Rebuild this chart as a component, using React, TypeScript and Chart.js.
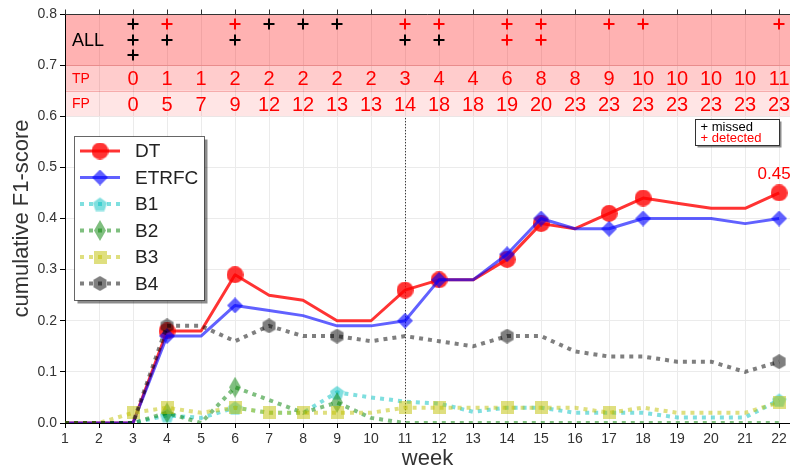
import React, { useEffect, useRef } from 'react';
import { Chart, registerables } from 'chart.js';

Chart.register(...registerables);

const FONT = '"Liberation Sans", Arial, sans-serif';

// ---- data ----
const weeks = [1, 2, 3, 4, 5, 6, 7, 8, 9, 10, 11, 12, 13, 14, 15, 16, 17, 18, 19, 20, 21, 22];
const dtValues = [0, 0, 0, 0.18, 0.18, 0.29, 0.25, 0.24, 0.2, 0.2, 0.26, 0.28, 0.28, 0.32, 0.39, 0.38, 0.41, 0.44, 0.43, 0.42, 0.42, 0.45];
const etrfcValues = [0, 0, 0, 0.17, 0.17, 0.23, 0.22, 0.21, 0.19, 0.19, 0.2, 0.28, 0.28, 0.33, 0.4, 0.38, 0.38, 0.4, 0.4, 0.4, 0.39, 0.4];
const b1Values = [0, 0, 0, 0.015, 0.01, 0.03, 0.02, 0.02, 0.06, 0.05, 0.042, 0.038, 0.022, 0.03, 0.03, 0.02, 0.02, 0.02, 0.011, 0.011, 0.011, 0.045];
const b2Values = [0, 0, 0, 0.02, 0, 0.07, 0.045, 0.02, 0.04, 0.01, 0, 0, 0, 0, 0, 0, 0, 0, 0, 0, 0, 0];
const b3Values = [0, 0, 0.02, 0.03, 0.02, 0.03, 0.02, 0.02, 0.02, 0.02, 0.03, 0.03, 0.03, 0.03, 0.03, 0.03, 0.02, 0.03, 0.02, 0.02, 0.02, 0.04];
const b4Values = [0, 0, 0, 0.19, 0.19, 0.16, 0.19, 0.17, 0.17, 0.16, 0.17, 0.16, 0.15, 0.17, 0.17, 0.14, 0.13, 0.13, 0.12, 0.12, 0.1, 0.12];

const dtMarkerWeeks = [4, 6, 11, 12, 14, 15, 17, 18, 22];
const etrfcMarkerWeeks = [4, 6, 11, 12, 14, 15, 17, 18, 22];
const b1MarkerWeeks = [4, 6, 9, 22];
const b2MarkerWeeks = [4, 6, 9];
const b3MarkerWeeks = [3, 4, 6, 7, 8, 9, 11, 12, 14, 15, 17, 22];
const b4MarkerWeeks = [4, 7, 9, 14, 22];

// top band
const countWeeks = [3, 4, 5, 6, 7, 8, 9, 10, 11, 12, 13, 14, 15, 16, 17, 18, 19, 20, 21, 22];
const tpCounts = [0, 1, 1, 2, 2, 2, 2, 2, 3, 4, 4, 6, 8, 8, 9, 10, 10, 10, 10, 11];
const fpCounts = [0, 5, 7, 9, 12, 12, 13, 13, 14, 18, 18, 19, 20, 23, 23, 23, 23, 23, 23, 23];
const eventWeeks = [3, 4, 6, 7, 8, 9, 11, 12, 14, 15, 17, 18, 22];
const detectedPerWeek = [0, 1, 1, 0, 0, 0, 1, 1, 2, 2, 1, 1, 1];
const missedPerWeek = [3, 1, 1, 1, 1, 1, 1, 1, 0, 0, 0, 0, 0];
const plusRows = [0.78, 0.75, 0.72];

const yTicks = [0, 0.1, 0.2, 0.3, 0.4, 0.5, 0.6, 0.7, 0.8];
const markedWeek = 11;
const finalLabel = '0.45';

// ---- marker images ----
function makeMarker(shape: string, color: string, w: number, h: number) {
  const c = document.createElement('canvas');
  c.width = w;
  c.height = h;
  const g = c.getContext('2d')!;
  g.fillStyle = color;
  g.beginPath();
  const cx = w / 2, cy = h / 2;
  if (shape === 'circle') {
    g.arc(cx, cy, w / 2, 0, Math.PI * 2);
  } else if (shape === 'diamond') {
    g.moveTo(cx, 0); g.lineTo(w, cy); g.lineTo(cx, h); g.lineTo(0, cy); g.closePath();
  } else if (shape === 'square') {
    g.rect(0, 0, w, h);
  } else {
    const n = shape === 'pentagon' ? 5 : 6;
    const r = w / 2;
    for (let i = 0; i < n; i++) {
      const a = -Math.PI / 2 + (i * 2 * Math.PI) / n;
      const px = cx + r * Math.cos(a), py = cy + r * Math.sin(a) + (n === 5 ? 1 : 0);
      if (i === 0) g.moveTo(px, py); else g.lineTo(px, py);
    }
    g.closePath();
  }
  g.fill();
  return c;
}

export default function App() {
  const ref = useRef<HTMLCanvasElement>(null);

  useEffect(() => {
    const colDT = 'rgba(255,0,0,0.8)';
    const colET = 'rgba(0,0,255,0.62)';
    const colB1 = 'rgba(0,191,191,0.5)';
    const colB2 = 'rgba(0,128,0,0.5)';
    const colB3 = 'rgba(191,191,0,0.5)';
    const colB4 = 'rgba(0,0,0,0.5)';

    const series = [
      { label: 'DT', values: dtValues, marks: dtMarkerWeeks, color: colDT, width: 3, dash: [] as number[], img: makeMarker('circle', colDT, 17, 17), order: 6 },
      { label: 'ETRFC', values: etrfcValues, marks: etrfcMarkerWeeks, color: colET, width: 3, dash: [] as number[], img: makeMarker('diamond', colET, 16, 16), order: 5 },
      { label: 'B1', values: b1Values, marks: b1MarkerWeeks, color: colB1, width: 4, dash: [4, 5], img: makeMarker('pentagon', colB1, 15, 15), order: 4 },
      { label: 'B2', values: b2Values, marks: b2MarkerWeeks, color: colB2, width: 4, dash: [4, 5], img: makeMarker('diamond', colB2, 12, 21), order: 3 },
      { label: 'B3', values: b3Values, marks: b3MarkerWeeks, color: colB3, width: 4, dash: [4, 5], img: makeMarker('square', colB3, 13, 13), order: 2 },
      { label: 'B4', values: b4Values, marks: b4MarkerWeeks, color: colB4, width: 4, dash: [4, 5], img: makeMarker('hexagon', colB4, 15, 15), order: 1 },
    ];

    const datasets = series.map((s) => ({
      label: s.label,
      data: weeks.map((w, i) => ({ x: w, y: s.values[i] })),
      borderColor: s.color,
      backgroundColor: s.color,
      borderWidth: s.width,
      borderDash: s.dash,
      borderCapStyle: 'butt' as const,
      borderJoinStyle: s.dash.length ? ('miter' as const) : ('round' as const),
      tension: 0,
      fill: false,
      pointStyle: s.img,
      pointRadius: weeks.map((w) => (s.marks.includes(w) ? 6 : 0)),
      pointHoverRadius: 0,
      order: s.order,
    }));

    const overlay = {
      id: 'overlay',
      beforeDatasetsDraw(chart: any) {
        const { ctx, chartArea: a, scales } = chart;
        const x = scales.x, y = scales.y;
        ctx.save();
        const L = a.left + 1, R = a.right;
        const band = (v0: number, v1: number, c: string) => {
          const t = y.getPixelForValue(v1), b = y.getPixelForValue(v0);
          ctx.fillStyle = c;
          ctx.fillRect(L, t, R - L, b - t);
        };
        band(0.7, 0.8, 'rgba(255,0,0,0.3)');
        band(0.65, 0.7, 'rgba(255,0,0,0.2)');
        band(0.6, 0.65, 'rgba(255,0,0,0.1)');
        ctx.strokeStyle = 'rgba(220,0,0,0.25)';
        ctx.lineWidth = 1;
        [0.7, 0.65].forEach((v) => {
          const py = Math.round(y.getPixelForValue(v)) + 0.5;
          ctx.beginPath(); ctx.moveTo(L, py); ctx.lineTo(R, py); ctx.stroke();
        });
        // dotted vertical line
        const vx = Math.round(x.getPixelForValue(markedWeek)) + 0.5;
        ctx.strokeStyle = '#000';
        ctx.setLineDash([1, 2]);
        ctx.beginPath();
        ctx.moveTo(vx, y.getPixelForValue(0.6) + 2);
        ctx.lineTo(vx, y.getPixelForValue(0));
        ctx.stroke();
        ctx.restore();
      },
      afterDatasetsDraw(chart: any) {
        const { ctx, chartArea: a, scales } = chart;
        const x = scales.x, y = scales.y;
        ctx.save();
        // top axis line & ticks
        ctx.strokeStyle = '#333';
        ctx.lineWidth = 1;
        const ty = Math.round(a.top) + 0.5;
        ctx.beginPath(); ctx.moveTo(a.left, ty); ctx.lineTo(a.right, ty); ctx.stroke();
        weeks.forEach((w) => {
          const px = Math.round(x.getPixelForValue(w)) + 0.5;
          ctx.beginPath(); ctx.moveTo(px, ty); ctx.lineTo(px, ty - 5); ctx.stroke();
        });
        // band labels
        ctx.textBaseline = 'middle';
        ctx.textAlign = 'left';
        ctx.fillStyle = '#000';
        ctx.font = `18px ${FONT}`;
        ctx.fillText('ALL', a.left + 7, y.getPixelForValue(0.75) + 1);
        ctx.fillStyle = '#ff0000';
        ctx.font = `14px ${FONT}`;
        ctx.fillText('TP', a.left + 7, y.getPixelForValue(0.675) + 1);
        ctx.fillText('FP', a.left + 7, y.getPixelForValue(0.625) + 1);
        ctx.textAlign = 'center';
        ctx.font = `20px ${FONT}`;
        countWeeks.forEach((w, i) => {
          const px = x.getPixelForValue(w);
          ctx.fillText(String(tpCounts[i]), px, y.getPixelForValue(0.675) + 2);
          ctx.fillText(String(fpCounts[i]), px, y.getPixelForValue(0.625) + 2);
        });
        // plus markers
        ctx.lineWidth = 2;
        eventWeeks.forEach((w, i) => {
          const px = Math.round(x.getPixelForValue(w));
          const cols: string[] = [];
          for (let k = 0; k < detectedPerWeek[i]; k++) cols.push('#ff0000');
          for (let k = 0; k < missedPerWeek[i]; k++) cols.push('#000000');
          cols.forEach((c, r) => {
            const py = Math.round(y.getPixelForValue(plusRows[r]));
            ctx.strokeStyle = c;
            ctx.beginPath();
            ctx.moveTo(px - 5.5, py); ctx.lineTo(px + 5.5, py);
            ctx.moveTo(px, py - 5.5); ctx.lineTo(px, py + 5.5);
            ctx.stroke();
          });
        });
        // final value label
        ctx.fillStyle = '#ff0000';
        ctx.font = `17px ${FONT}`;
        ctx.textAlign = 'center';
        ctx.fillText(finalLabel, x.getPixelForValue(22) - 5, y.getPixelForValue(dtValues[dtValues.length - 1]) - 19);

        // missed / detected box
        const bx = 695.5, by = 119.5, bw = 84, bh = 26;
        ctx.fillStyle = 'rgba(0,0,0,0.45)';
        ctx.fillRect(bx + 2, by + 2, bw, bh);
        ctx.fillStyle = '#fff';
        ctx.fillRect(bx, by, bw, bh);
        ctx.strokeStyle = '#333';
        ctx.lineWidth = 1;
        ctx.strokeRect(bx, by, bw, bh);
        ctx.textAlign = 'left';
        ctx.font = `13px ${FONT}`;
        ctx.fillStyle = '#000';
        ctx.fillText('+ missed', bx + 5, by + 8);
        ctx.fillStyle = '#ff0000';
        ctx.fillText('+ detected', bx + 5, by + 19);

        // main legend
        const lx = 74.5, ly = 136.5, lw = 130, lh = 164;
        ctx.fillStyle = 'rgba(0,0,0,0.45)';
        ctx.fillRect(lx + 3, ly + 3, lw, lh);
        ctx.fillStyle = '#fff';
        ctx.fillRect(lx, ly, lw, lh);
        ctx.strokeStyle = 'rgba(0,0,0,0.6)';
        ctx.strokeRect(lx, ly, lw, lh);
        series.forEach((s, i) => {
          const ey = 151 + i * 26.5;
          ctx.strokeStyle = s.color;
          ctx.lineWidth = s.width;
          ctx.setLineDash(s.dash);
          ctx.lineCap = 'butt';
          ctx.beginPath();
          ctx.moveTo(80, ey); ctx.lineTo(120, ey);
          ctx.stroke();
          ctx.setLineDash([]);
          ctx.drawImage(s.img, 100 - s.img.width / 2, ey - s.img.height / 2);
          ctx.fillStyle = '#222';
          ctx.font = `19px ${FONT}`;
          ctx.textAlign = 'left';
          ctx.fillText(s.label, 135, ey + 1);
        });
        ctx.restore();
      },
    };

    const tickFont = { family: FONT, size: 14 };
    const chart = new Chart(ref.current!, {
      type: 'line',
      data: { datasets: datasets as any },
      plugins: [overlay],
      options: {
        animation: false,
        responsive: false,
        events: [],
        layout: { autoPadding: false, padding: { top: 14, right: 0, left: 0, bottom: 0 } },
        plugins: { legend: { display: false }, tooltip: { enabled: false } },
        scales: {
          x: {
            type: 'linear',
            min: 1,
            max: 22.32,
            afterBuildTicks: (s: any) => { s.ticks = weeks.map((v) => ({ value: v })); },
            afterFit: (s: any) => {
              s.height = 48;
              s.paddingRight = 0;
              s.paddingLeft = 0;
            },
            grid: { color: '#ebebeb', tickColor: '#000', tickLength: 5 },
            border: { color: '#000' },
            ticks: { font: tickFont, color: '#333', padding: 3, maxRotation: 0, autoSkip: false, callback: (v: any) => String(v) },
            title: { display: true, text: 'week', color: '#333', font: { family: FONT, size: 22, lineHeight: 1 }, padding: { top: 0, bottom: 1 } },
          },
          y: {
            type: 'linear',
            min: 0,
            max: 0.8,
            afterBuildTicks: (s: any) => { s.ticks = yTicks.map((v) => ({ value: v })); },
            afterFit: (s: any) => { s.width = 65; },
            grid: { color: '#ebebeb', tickColor: '#000', tickLength: 5 },
            border: { color: '#000' },
            ticks: { font: tickFont, color: '#333', padding: 3, callback: (v: any) => Number(v).toFixed(1) },
            title: { display: true, text: 'cumulative F1-score', color: '#333', font: { family: FONT, size: 22, lineHeight: 1 }, padding: { top: 11, bottom: 0 } },
          },
        },
      },
    } as any);
    return () => chart.destroy();
  }, []);

  return (
    <div style={{ position: 'fixed', left: 0, top: 0, width: 790, height: 471, background: '#fff' }}>
      <canvas ref={ref} width={790} height={471} style={{ display: 'block', width: 790, height: 471 }} />
    </div>
  );
}
